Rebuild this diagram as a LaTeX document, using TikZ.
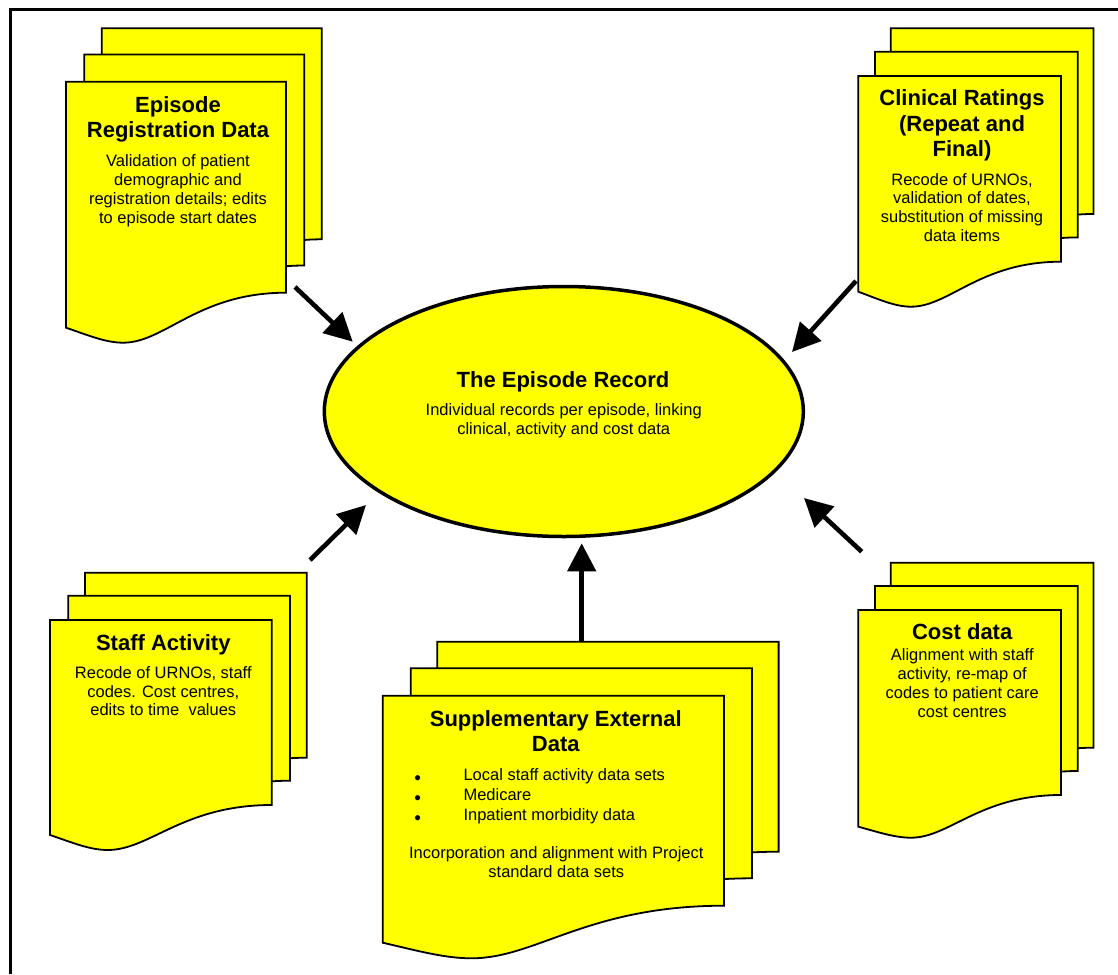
\documentclass[tikz,border=0pt]{standalone}
\usepackage{fontspec}
\setmainfont{Liberation Sans}
\usetikzlibrary{arrows.meta,shapes.geometric}
\definecolor{sheetyellow}{RGB}{255,255,0}

% A sheet of the "multiple documents" symbol: top-left corner (#1,#2),
% width #3, right edge height #4, extra drop of the left corner #5,
% depth of the wavy bottom edge #6.
\newcommand\docsheet[6]{%
  \pgfmathsetmacro\dsR{#1+#3}%
  \pgfmathsetmacro\dsYR{#2+#4}%
  \pgfmathsetmacro\dsYL{#2+#4+#5}%
  \pgfmathsetmacro\dsYD{#2+#4+#5+#6}%
  \draw[sheet] (#1,#2) -- (\dsR,#2) -- (\dsR,\dsYR)
    .. controls ({#1+0.6*#3},\dsYR) and ({#1+0.45*#3},\dsYD) .. ({#1+0.26*#3},\dsYD)
    .. controls ({#1+0.18*#3},\dsYD) and ({#1+0.1*#3},{\dsYL+0.5*#6}) .. (#1,\dsYL)
    -- cycle;}

\begin{document}
\begin{tikzpicture}[x=1pt,y=-1pt,
  sheet/.style={draw=black,fill=sheetyellow,line width=1.8pt,line join=miter},
  frameline/.style={line width=3.8pt},
  ttl/.style={font=\bfseries\fontsize{22}{25.5}\selectfont,align=center,inner sep=0pt,anchor=north},
  bdy/.style={font=\fontsize{16.5}{18.7}\selectfont,align=center,inner sep=0pt,anchor=north},
  itemtext/.style={font=\fontsize{16.5}{20}\selectfont,align=left,inner sep=0pt,anchor=north west},
  bulletmark/.style={font=\fontsize{19}{20}\selectfont,align=center,inner sep=0pt,anchor=north},
  flow/.style={line width=4.6pt,-{Triangle[length=28pt,width=28pt]}}]
\useasboundingbox (0,0) rectangle (1118,974);

% outer frame (top and left edges)
\draw[frameline] (10.5,974) -- (10.5,9.5) -- (1118,9.5);

% Episode registration data stack
\docsheet{101.7}{28.3}{220}{211}{35}{15}
\docsheet{84.3}{54.5}{220}{211}{35}{15}
\docsheet{66}{81.7}{220}{211}{35}{15}

% Clinical ratings stack
\docsheet{890.7}{28.3}{202.7}{185.7}{30}{15}
\docsheet{875}{51.7}{202.7}{185.7}{30}{15}
\docsheet{858.3}{76}{202.7}{185.7}{30}{15}

% Staff activity stack
\docsheet{85}{572.7}{221.7}{185}{30}{15}
\docsheet{68.3}{595.7}{221.7}{185}{30}{15}
\docsheet{50}{620}{221.7}{185}{30}{15}

% Supplementary external data stack
\docsheet{437.3}{641.7}{341.3}{210}{37}{15.6}
\docsheet{410.7}{668.3}{341.3}{210}{37}{15.6}
\docsheet{382.7}{695.7}{341.3}{210}{37}{15.6}

% Cost data stack
\docsheet{890.7}{562.7}{202.7}{185}{31.7}{11}
\docsheet{875}{586}{202.7}{185}{31.7}{11}
\docsheet{858.3}{610}{202.7}{185}{31.7}{11}

% central record
\node[ellipse,draw=black,fill=sheetyellow,line width=3.5pt,inner sep=0pt,
      minimum width=479pt,minimum height=250pt] (rec) at (563.8,411.5) {};

% arrow ends
\coordinate (tlFrom) at (295,287);      \coordinate (tlTo) at (352.7,341.7);
\coordinate (trFrom) at (856,281);      \coordinate (trTo) at (792,352);
\coordinate (blFrom) at (310,560);      \coordinate (blTo) at (366,505);
\coordinate (brFrom) at (861.7,551.7);  \coordinate (brTo) at (804,498);
\coordinate (bcFrom) at (581.7,641.7);  \coordinate (bcTo) at (581.7,543.3);

\draw[flow] (tlFrom) -- (tlTo);
\draw[flow] (trFrom) -- (trTo);
\draw[flow] (blFrom) -- (blTo);
\draw[flow] (brFrom) -- (brTo);
\draw[flow] (bcFrom) -- (bcTo);

% texts
\node[ttl] (recTitle) at (563,371.5) {The Episode Record};
\node[bdy] (recBody) at (563.7,403.8) {Individual records per episode, linking\\clinical, activity and cost data};

\node[ttl] (regTitle) at (178,95.9) {Episode\\Registration Data};
\node[bdy] (regBody) at (178,154.8) {Validation of patient\\demographic and\\registration details; edits\\to episode start dates};

\node[ttl] (clinTitle) at (962,89.5) {Clinical Ratings\\(Repeat and\\Final)};
\node[bdy] (clinBody) at (962,173.1) {Recode of URNOs,\\validation of dates,\\substitution of missing\\data items};

\node[ttl] (staffTitle) at (163.3,634.2) {Staff Activity};
\node[bdy] (staffBody) at (163.3,666.4) {Recode of URNOs, staff\\codes. Cost centres,\\edits to time\ \ values};

\node[ttl] (suppTitle) at (555.8,709.9) {Supplementary External\\Data};
\node[bulletmark] (suppDots) at (417.7,775) {•\\•\\•};
\node[itemtext] (suppItems) at (463.3,768.1) {Local staff activity data sets\\Medicare\\Inpatient morbidity data};
\node[bdy] (suppBody) at (556.3,846.4) {Incorporation and alignment with Project\\standard data sets};

\node[ttl] (costTitle) at (962.2,623.2) {Cost data};
\node[bdy] (costBody) at (962.2,648.8) {Alignment with staff\\activity, re-map of\\codes to patient care\\cost centres};
\end{tikzpicture}
\end{document}
